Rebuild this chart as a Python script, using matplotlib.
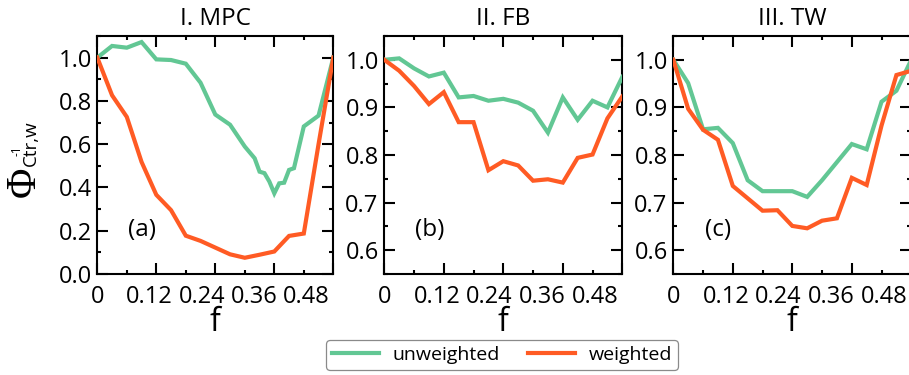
import matplotlib
matplotlib.use("Agg")
import matplotlib.pyplot as plt
from matplotlib.ticker import MultipleLocator, NullFormatter
from matplotlib.lines import Line2D

plt.rcParams['font.family'] = ['Open Sans', 'DejaVu Sans']

# ---------------- data ----------------
titles = ["I. MPC", "II. FB", "III. TW"]
panel_tags = ["(a)", "(b)", "(c)"]
series_names = ["unweighted", "weighted"]
xtick_labels = ["0", "0.12", "0.24", "0.36", "0.48"]
xtick_values = [0, 0.12, 0.24, 0.36, 0.48]

f_std = [0, 0.03, 0.06, 0.09, 0.12, 0.15, 0.18, 0.21, 0.24,
         0.27, 0.30, 0.33, 0.36, 0.39, 0.42, 0.45, 0.48]

# I. MPC
f_mpc_unw = [0, 0.03, 0.06, 0.09, 0.12, 0.15, 0.18, 0.21, 0.24, 0.27, 0.30,
             0.32, 0.33, 0.34, 0.35, 0.36, 0.37, 0.38, 0.39, 0.40, 0.42, 0.45, 0.48]
mpc_unw = [1.0, 1.054, 1.046, 1.072, 0.992, 0.989, 0.972, 0.884, 0.737, 0.690, 0.589,
           0.535, 0.473, 0.466, 0.427, 0.373, 0.419, 0.422, 0.481, 0.489, 0.682, 0.732, 1.0]
mpc_w = [1.0, 0.826, 0.726, 0.518, 0.366, 0.295, 0.177, 0.153, 0.122,
         0.091, 0.075, 0.089, 0.104, 0.176, 0.187, 0.60, 1.0]

# II. FB
fb_unw = [1.0, 1.003, 0.982, 0.965, 0.973, 0.921, 0.924, 0.914, 0.918,
          0.910, 0.893, 0.847, 0.921, 0.874, 0.914, 0.900, 0.964]
fb_w = [1.0, 0.977, 0.945, 0.907, 0.932, 0.869, 0.869, 0.768, 0.787,
        0.778, 0.746, 0.749, 0.742, 0.794, 0.801, 0.877, 0.923]

# III. TW
tw_unw = [1.0, 0.951, 0.854, 0.857, 0.825, 0.747, 0.724, 0.724, 0.724,
          0.712, 0.747, 0.785, 0.823, 0.812, 0.912, 0.935, 1.0]
tw_w = [1.0, 0.897, 0.853, 0.832, 0.735, 0.709, 0.683, 0.684, 0.651,
        0.646, 0.662, 0.667, 0.752, 0.737, 0.862, 0.968, 0.977]

panels = [
    (f_mpc_unw, mpc_unw, f_std, mpc_w, (0.0, 1.1), 0.2, 0.1, "%.1f"),
    (f_std, fb_unw, f_std, fb_w, (0.55, 1.05), 0.1, 0.05, "%.1f"),
    (f_std, tw_unw, f_std, tw_w, (0.55, 1.05), 0.1, 0.05, "%.1f"),
]

GREEN = "#62C794"
ORANGE = "#FF5B24"
LW = 3.0

W, H = 909, 375
fig = plt.figure(figsize=(W / 100, H / 100), dpi=100)

ax_px = [(97.3, 236.0), (384.3, 238.0), (673.3, 238.0)]
top_px, bot_px = 36.0, 274.0

label_scale = 0.885  # tick labels in the original sit slightly compressed

for i, (xu, yu, xw, yw, ylim, ymaj, ymin, fmt) in enumerate(panels):
    left, width = ax_px[i]
    ax = fig.add_axes([left / W, 1 - bot_px / H, width / W, (bot_px - top_px) / H])
    ax.plot(xu, yu, color=GREEN, lw=LW, solid_joinstyle='miter', zorder=3)
    ax.plot(xw, yw, color=ORANGE, lw=LW, solid_joinstyle='miter', zorder=3)
    ax.set_xlim(0, 0.48)
    ax.set_ylim(*ylim)
    ax.xaxis.set_major_locator(MultipleLocator(0.12))
    ax.xaxis.set_minor_locator(MultipleLocator(0.06))
    ax.xaxis.set_major_formatter(NullFormatter())
    ax.yaxis.set_major_locator(MultipleLocator(ymaj))
    ax.yaxis.set_minor_locator(MultipleLocator(ymin))
    ax.yaxis.set_major_formatter(plt.FormatStrFormatter(fmt))
    ax.tick_params(which='both', direction='in', top=True, right=True,
                   width=1.5, labelsize=17, pad=4)
    ax.tick_params(which='major', length=8)
    ax.tick_params(which='minor', length=3)
    for s in ax.spines.values():
        s.set_linewidth(1.5)
    ax.set_title(titles[i], fontsize=17.5, pad=8)
    ax.text(0.19, 0.185, panel_tags[i], transform=ax.transAxes,
            ha='center', va='center', fontsize=17.5)

    sec = ax.secondary_xaxis('bottom', functions=(lambda x: x / label_scale,
                                                   lambda x: x * label_scale))
    sec.set_xticks(xtick_values, xtick_labels)
    sec.tick_params(length=0, labelsize=17, pad=8)
    sec.spines['bottom'].set_visible(False)
    sec.set_xlabel("f", fontsize=23, labelpad=-2)

# y-axis label built from pieces: Phi, subscript C tr,w and superscript -1
fig.text(24.5 / W, 1 - 182 / H, "Φ", rotation=90, fontsize=30,
         family=['Liberation Serif', 'DejaVu Serif'], ha='center', va='center')
fig.text(30.5 / W, 1 - 166 / H, "Ctr,w", rotation=90, fontsize=13.5,
         ha='center', va='bottom')
fig.text(17 / W, 1 - 151 / H, "-1", rotation=90, fontsize=8.5,
         ha='center', va='center')

handles = [Line2D([], [], color=GREEN, lw=LW), Line2D([], [], color=ORANGE, lw=LW)]
leg = fig.legend(handles, series_names, loc='center',
                 bbox_to_anchor=(502 / W, 1 - 355 / H), ncol=2, fontsize=14,
                 frameon=True, fancybox=True, edgecolor='#8a8a8a', framealpha=1,
                 handlelength=2.4, handletextpad=0.7, columnspacing=1.45,
                 borderpad=0.3)
leg.get_frame().set_linewidth(0.9)

fig.savefig("out.png", dpi=100)
